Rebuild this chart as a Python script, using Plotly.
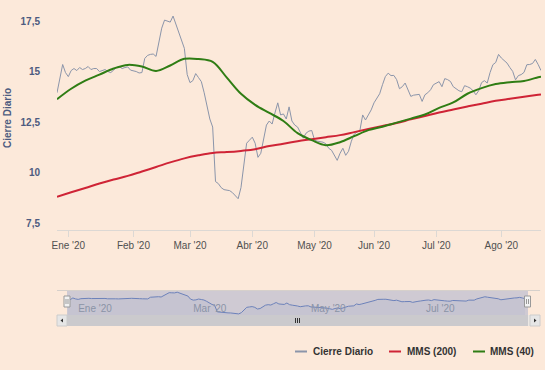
import plotly.graph_objects as go
import pandas as pd

# ---------------- data ----------------
close_values = [
    14.3, 15.0, 15.7, 15.3, 15.1, 15.4, 15.5, 15.4, 15.55, 15.45,
    15.5, 15.6, 15.45, 15.5, 15.5, 15.35, 15.42, 15.45, 15.35, 15.3,
    15.42, 15.55, 15.6, 15.5, 15.55, 15.58, 15.42, 15.4, 15.35, 15.28,
    15.3, 16.0, 16.15, 16.2, 16.22, 16.1, 16.8, 17.5, 17.9, 17.85,
    17.8, 18.1, 17.7, 17.3, 16.9, 16.5, 15.2, 14.8, 14.9, 15.25,
    15.05, 14.85, 14.3, 13.6, 13.0, 12.6, 9.9, 9.8, 9.6, 9.5,
    9.48, 9.45, 9.35, 9.2, 9.05, 9.6, 10.7, 11.8, 11.95, 12.1,
    11.8, 11.1, 11.3, 12.0, 12.7, 12.9, 12.75, 13.3, 13.8, 13.2,
    13.25, 13.0, 13.6, 12.9, 12.7, 12.6, 12.35, 12.05, 12.3, 12.4,
    12.43, 11.95, 11.9, 11.86, 11.85, 11.77, 11.55, 11.45, 11.2, 10.95,
    11.3, 11.55, 11.2, 11.4, 11.9, 12.25, 12.35, 12.42, 13.2, 12.95,
    13.2, 13.45, 13.8, 14.0, 14.25, 14.7, 15.1, 15.27, 15.15, 15.16,
    14.95, 14.5, 14.6, 14.78, 14.45, 14.12, 14.18, 14.2, 14.22, 13.87,
    14.2, 14.3, 14.45, 14.7, 14.78, 14.85, 14.6, 15.0, 14.95, 14.86,
    14.6, 14.5, 14.4, 14.35, 14.65, 14.6, 14.53, 14.4, 14.2, 14.4,
    14.8, 14.9, 14.78, 15.3, 15.69, 15.8, 16.2, 16.02, 15.9, 15.77,
    15.55, 15.36, 14.94, 15.15, 15.2, 15.31, 15.69, 15.7, 15.75, 15.95,
    15.7, 15.4,
]
dates = pd.bdate_range("2019-12-26", periods=len(close_values))

ma_index = list(range(0, 171, 5)) + [171]
mms200_values = [
    9.15, 9.37, 9.58, 9.8, 10.0, 10.18, 10.4, 10.62, 10.85, 11.05,
    11.2, 11.32, 11.36, 11.42, 11.5, 11.66, 11.77, 11.9, 12.0, 12.1,
    12.2, 12.35, 12.5, 12.65, 12.8, 12.98, 13.15, 13.32, 13.47, 13.62,
    13.76, 13.9, 14.0, 14.1, 14.2, 14.22,
]
mms40_values = [
    13.98, 14.5, 14.9, 15.2, 15.5, 15.68, 15.6, 15.38, 15.65, 15.98,
    15.97, 15.83, 15.05, 14.25, 13.7, 13.3, 12.9, 12.3, 11.95, 11.7,
    11.85, 12.15, 12.45, 12.62, 12.82, 13.02, 13.22, 13.55, 13.82, 14.25,
    14.53, 14.73, 14.82, 14.88, 15.07, 15.1,
]
ma_dates = [dates[i] for i in ma_index]

month_ticks = ["2020-01-01", "2020-02-03", "2020-03-02", "2020-04-01",
               "2020-05-01", "2020-06-01", "2020-07-01", "2020-08-03"]
month_labels = ["Ene '20", "Feb '20", "Mar '20", "Abr '20",
                "May '20", "Jun '20", "Jul '20", "Ago '20"]
nav_ticks = ["2020-01-01", "2020-03-02", "2020-05-01", "2020-07-01"]
nav_labels = ["Ene '20", "Mar '20", "May '20", "Jul '20"]
y_ticks = [7.5, 10, 12.5, 15, 17.5]
y_labels = ["7,5", "10", "12,5", "15", "17,5"]

series_names = ["Cierre Diario", "MMS (200)", "MMS (40)"]
series_colors = ["#8b95aa", "#cf2436", "#2f7d14"]

# ---------------- layout helpers ----------------
W, H = 545, 370
BG = "#fce9da"
FONT = "Liberation Sans, Arial, sans-serif"


def px(x):
    return x / W


def py(y):
    return 1 - y / H


fig = go.Figure()

fig.add_trace(go.Scatter(x=dates, y=close_values, name=series_names[0], mode="lines",
                         line=dict(color=series_colors[0], width=1), xaxis="x", yaxis="y"))
fig.add_trace(go.Scatter(x=ma_dates, y=mms200_values, name=series_names[1], mode="lines",
                         line=dict(color=series_colors[1], width=2, shape="spline"),
                         xaxis="x", yaxis="y"))
fig.add_trace(go.Scatter(x=ma_dates, y=mms40_values, name=series_names[2], mode="lines",
                         line=dict(color=series_colors[2], width=2, shape="spline"),
                         xaxis="x", yaxis="y"))

# navigator series
fig.add_trace(go.Scatter(x=dates, y=close_values, mode="lines", showlegend=False,
                         line=dict(color="#6f80b6", width=1), fill="tozeroy",
                         fillcolor="rgba(51,92,173,0.06)", xaxis="x2", yaxis="y2",
                         hoverinfo="skip"))

rb = [dict(bounds=["sat", "mon"])]

shapes = []
annotations = []

# navigator outline top
shapes.append(dict(type="line", xref="paper", yref="paper", x0=px(57), x1=px(540),
                   y0=py(290.5), y1=py(290.5), line=dict(color="#d6d0cb", width=1)))
# mask
shapes.append(dict(type="rect", xref="paper", yref="paper", x0=px(67), x1=px(528),
                   y0=py(315), y1=py(291), fillcolor="rgba(102,133,194,0.3)",
                   line=dict(width=0), layer="above"))
# scrollbar track
shapes.append(dict(type="rect", xref="paper", yref="paper", x0=px(57), x1=px(540),
                   y0=py(326), y1=py(315), fillcolor="#ece8e4", line=dict(width=0)))
# scrollbar thumb
shapes.append(dict(type="rect", xref="paper", yref="paper", x0=px(67), x1=px(528),
                   y0=py(326), y1=py(315), fillcolor="#cbcacd", line=dict(width=0)))
# buttons
for bx0, bx1 in [(57, 67), (530, 540)]:
    shapes.append(dict(type="rect", xref="paper", yref="paper", x0=px(bx0), x1=px(bx1),
                       y0=py(326), y1=py(315), fillcolor="#e6e6e6",
                       line=dict(color="#cccccc", width=1)))
# arrows
shapes.append(dict(type="path", xref="paper", yref="paper",
                   path=f"M {px(60.5)},{py(320.5)} L {px(63)},{py(318.5)} L {px(63)},{py(322.5)} Z",
                   fillcolor="#333333", line=dict(width=0)))
shapes.append(dict(type="path", xref="paper", yref="paper",
                   path=f"M {px(536.5)},{py(320.5)} L {px(534)},{py(318.5)} L {px(534)},{py(322.5)} Z",
                   fillcolor="#333333", line=dict(width=0)))
# grip
for gx in (295.5, 297.5, 299.5):
    shapes.append(dict(type="line", xref="paper", yref="paper", x0=px(gx), x1=px(gx),
                       y0=py(318), y1=py(323), line=dict(color="#333333", width=1)))
# handles
for hc in (67, 527.5):
    shapes.append(dict(type="rect", xref="paper", yref="paper", x0=px(hc - 3), x1=px(hc + 3),
                       y0=py(307), y1=py(296), fillcolor="#f2f2f2",
                       line=dict(color="#999999", width=1), layer="above"))
    for lx in (hc - 1, hc + 1):
        shapes.append(dict(type="line", xref="paper", yref="paper", x0=px(lx), x1=px(lx),
                           y0=py(299), y1=py(304), line=dict(color="#999999", width=1),
                           layer="above"))

# custom legend
legend_pos = [(295, 312), (389, 406), (473, 489)]
for (sx, tx), name, col in zip(legend_pos, series_names, series_colors):
    shapes.append(dict(type="line", xref="paper", yref="paper", x0=px(sx), x1=px(sx + 12),
                       y0=py(351.5), y1=py(351.5), line=dict(color=col, width=2)))
    annotations.append(dict(text=name, xref="paper", yref="paper", x=px(tx - 1), y=py(351.5),
                            xanchor="left", yanchor="middle", showarrow=False,
                            font=dict(family=FONT, size=10, color="#333333", weight="bold")))

# y-axis title
annotations.append(dict(text="Cierre Diario", xref="paper", yref="paper", x=px(7), y=py(118),
                        textangle=-90, showarrow=False, xanchor="center", yanchor="middle",
                        font=dict(family=FONT, size=10, color="#4d5b80", weight="bold")))

# navigator vertical mapping: 10 units over 24 px, extended 5 px lower for the labels
nav_top, nav_bottom = 291, 320
nav_ymax = 18.6
nav_ymin = nav_ymax - (nav_bottom - nav_top) * 10 / 24

fig.update_layout(
    width=W, height=H,
    margin=dict(l=0, r=0, t=0, b=0),
    paper_bgcolor=BG, plot_bgcolor=BG,
    showlegend=False,
    separators=",.",
    font=dict(family=FONT),
    xaxis=dict(domain=[px(57), px(541)], range=[dates[0], dates[-1]], rangebreaks=rb,
               tickvals=month_ticks, ticktext=month_labels, showgrid=False, zeroline=False,
               showline=True, linecolor="#dcd8d4", linewidth=1,
               ticks="outside", ticklen=6, tickcolor="#dcd8d4",
               tickfont=dict(family=FONT, size=10, color="#505050"),
               automargin=False, anchor="y", fixedrange=True),
    yaxis=dict(domain=[py(230), py(10)], range=[7.5, 18.4], tickvals=y_ticks,
               ticktext=y_labels, showgrid=False, zeroline=False, showline=False,
               ticks="", ticklabelposition="outside top", ticklabelstandoff=16,
               tickfont=dict(family=FONT, size=10, color="#4d5b80", weight="bold"),
               automargin=False, anchor="x", fixedrange=True),
    xaxis2=dict(domain=[px(67.5), px(525)], range=[dates[0], dates[-1]], rangebreaks=rb,
                tickvals=nav_ticks, ticktext=nav_labels, ticklabelposition="inside right",
                showgrid=False, zeroline=False, showline=False, ticks="",
                tickfont=dict(family=FONT, size=10, color="#9a9a9a"),
                automargin=False, anchor="y2", fixedrange=True),
    yaxis2=dict(domain=[py(nav_bottom), py(nav_top)], range=[nav_ymin, nav_ymax], visible=False,
                automargin=False, anchor="x2", fixedrange=True),
    shapes=shapes,
    annotations=annotations,
)

fig.write_html("out.html", config={"displayModeBar": False},
               post_script="document.body.style.margin='0';document.body.style.background='" + BG + "';")
